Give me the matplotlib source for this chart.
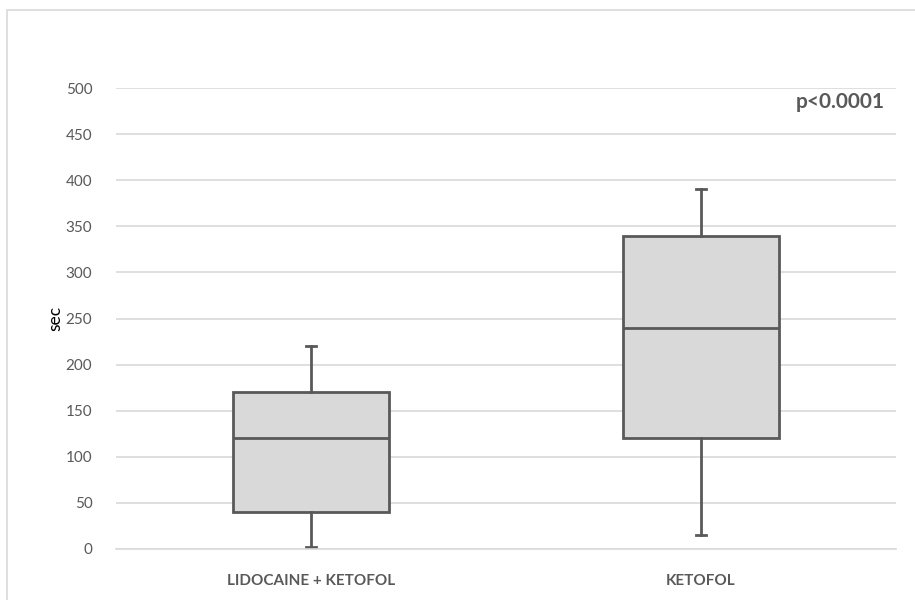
import matplotlib
matplotlib.use("Agg")
import matplotlib.pyplot as plt
from matplotlib.patches import Rectangle

categories = ["LIDOCAINE + KETOFOL", "KETOFOL"]
whisker_low = [2, 15]
q1 = [40, 120]
median = [120, 240]
q3 = [170, 340]
whisker_high = [220, 390]
y_ticks = [0, 50, 100, 150, 200, 250, 300, 350, 400, 450, 500]
p_text = "p<0.0001"

plt.rcParams['font.family'] = ['Lato', 'DejaVu Sans']

fig = plt.figure(figsize=(9.15, 6.0), dpi=100)
fig.patches.append(Rectangle((7/915, -0.05), 1.2, 1 - 10/600 + 0.05,
                             transform=fig.transFigure, fill=False,
                             edgecolor="#d9d9d9", linewidth=1.2, zorder=0))
ax = fig.add_axes([116/915, 51/600, 780/915, 461/600])

stats = []
for i, c in enumerate(categories):
    stats.append(dict(label=c, whislo=whisker_low[i], q1=q1[i], med=median[i],
                      q3=q3[i], whishi=whisker_high[i], fliers=[]))

line_col = "#595959"
ax.bxp(stats, positions=[0, 1], widths=0.4, capwidths=0.028, patch_artist=True,
       showfliers=False,
       boxprops=dict(facecolor="#d9d9d9", edgecolor=line_col, linewidth=2),
       medianprops=dict(color=line_col, linewidth=2),
       whiskerprops=dict(color=line_col, linewidth=2),
       capprops=dict(color=line_col, linewidth=2))

ax.set_xlim(-0.5, 1.5)
ax.set_ylim(0, 500)
ax.set_yticks(y_ticks)
ax.set_yticklabels([str(v) for v in y_ticks], fontsize=11, color="#595959")
ax.yaxis.grid(True, color="#d9d9d9", linewidth=1.2)
ax.set_axisbelow(True)
for s in ["top", "right", "left"]:
    ax.spines[s].set_visible(False)
ax.spines["bottom"].set_color("#d9d9d9")
ax.spines["bottom"].set_linewidth(1.2)
ax.tick_params(axis="y", length=0, pad=17)
ax.tick_params(axis="x", length=0, pad=18)
ax.set_xticks([0, 1])
ax.set_xticklabels(categories, fontsize=11, fontweight="bold", color="#595959")
ax.set_ylabel("sec", fontsize=12.5, color="black", labelpad=2)

ax.text(0.985, 0.97, p_text, transform=ax.transAxes, ha="right", va="center",
        fontsize=15, fontweight="bold", color="#595959")

fig.savefig("out.png", dpi=100)
